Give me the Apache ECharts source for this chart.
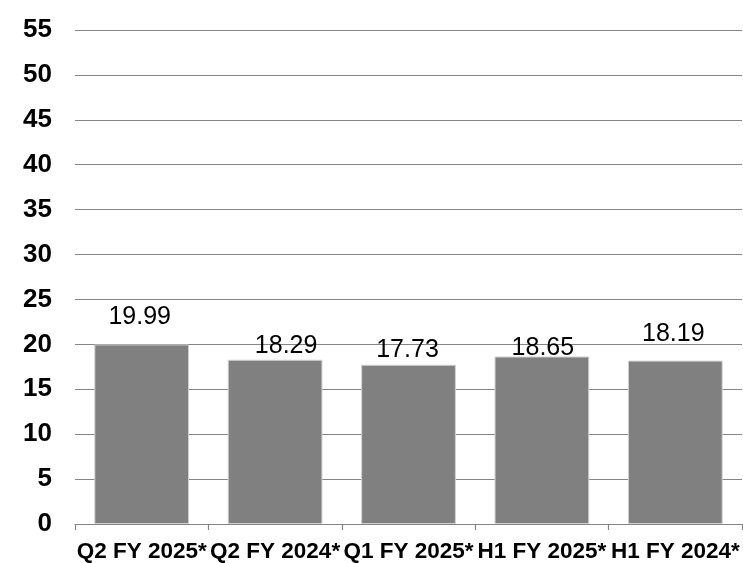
<!DOCTYPE html>
<html>
<head>
<meta charset="utf-8">
<script src="https://cdn.jsdelivr.net/npm/echarts@6/dist/echarts.min.js"></script>
<style>
  html, body { margin: 0; padding: 0; background: #fff; }
  #chart { width: 743px; height: 563px; }
</style>
</head>
<body>
<div id="chart"></div>
<script>
// Reporting periods and their values
const periods = ['Q2 FY 2025*', 'Q2 FY 2024*', 'Q1 FY 2025*', 'H1 FY 2025*', 'H1 FY 2024*'];
const values = [19.99, 18.29, 17.73, 18.65, 18.19];

// Value-axis range
const yMin = 0;
const yMax = 55;
const yStep = 5;

// Small per-label nudges [dx, dy] for the value labels
const labelNudge = [[-2, -10], [11, 4], [-1, 3], [1, 9], [-2, -9]];

const FONT = '"Liberation Sans", Arial, sans-serif';
const GRID_GRAY = '#858585';

const chart = echarts.init(document.getElementById('chart'), null, { renderer: 'canvas' });

chart.setOption({
  animation: false,
  backgroundColor: '#ffffff',
  grid: { left: 75, right: 1, top: 30, bottom: 39, containLabel: false },
  xAxis: {
    type: 'category',
    data: periods,
    axisLine: { show: true, lineStyle: { color: GRID_GRAY, width: 1.2 } },
    axisTick: { show: true, alignWithLabel: false, length: 6, lineStyle: { color: GRID_GRAY, width: 1.2 } },
    axisLabel: {
      interval: 0,
      margin: 16,
      color: '#000',
      fontFamily: FONT,
      fontWeight: 'bold',
      fontSize: 22.5
    },
    splitLine: { show: false }
  },
  yAxis: {
    type: 'value',
    min: yMin,
    max: yMax,
    interval: yStep,
    axisLine: { show: false },
    axisTick: { show: false },
    axisLabel: {
      margin: 23,
      color: '#000',
      fontFamily: FONT,
      fontWeight: 'bold',
      fontSize: 26
    },
    splitLine: { show: true, lineStyle: { color: GRID_GRAY, width: 1.2 } }
  },
  series: [{
    type: 'bar',
    barCategoryGap: '29%',
    data: values.map((v, i) => ({
      value: v,
      label: { offset: labelNudge[i] }
    })),
    itemStyle: { color: '#808080', borderColor: '#d0d0d0', borderWidth: 1 },
    label: {
      show: true,
      position: 'top',
      distance: 5,
      color: '#000',
      fontFamily: FONT,
      fontSize: 25,
      formatter: p => p.value.toFixed(2)
    }
  }]
});
</script>
</body>
</html>
